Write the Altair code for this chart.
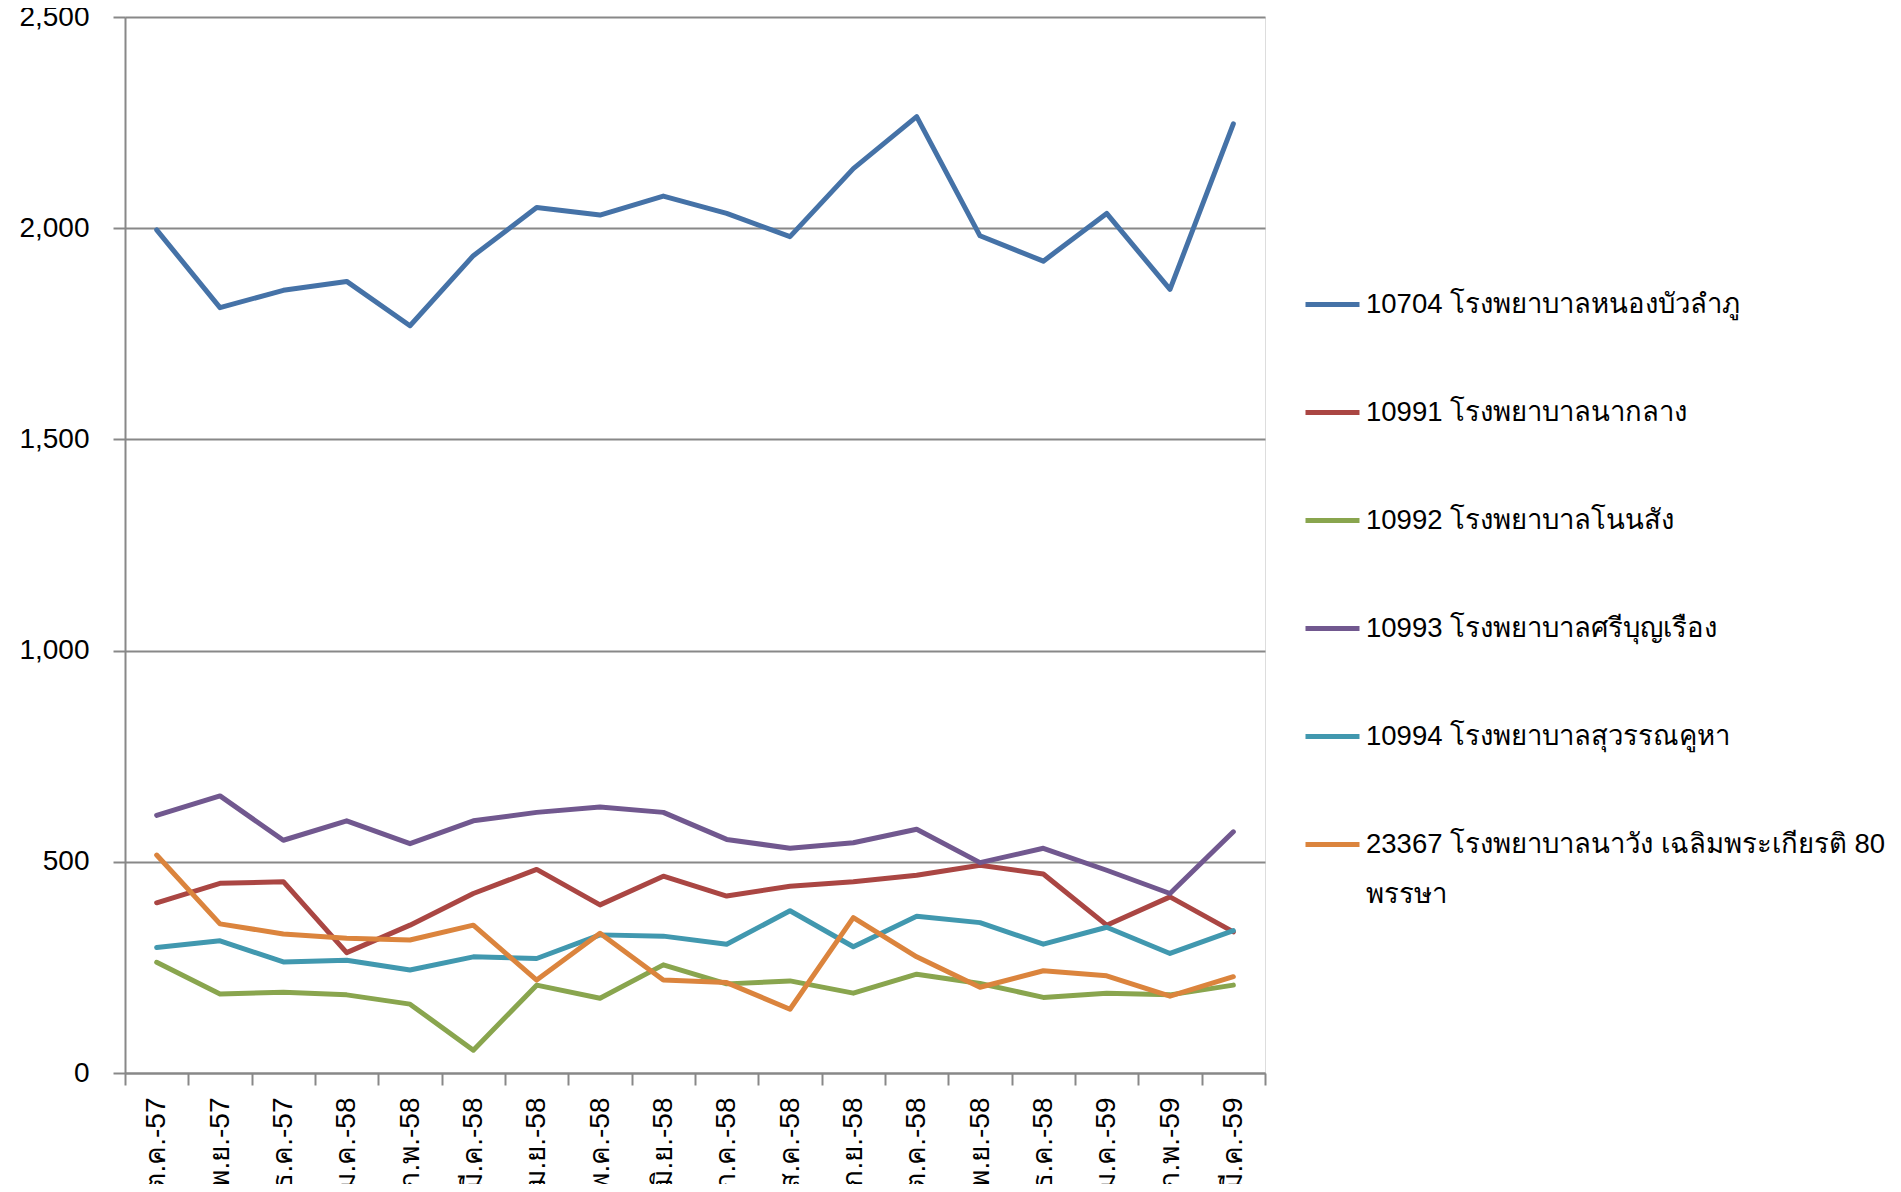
import altair as alt
import pandas as pd

months = ["ต.ค.-57", "พ.ย.-57", "ธ.ค.-57", "ม.ค.-58", "ก.พ.-58", "มี.ค.-58",
          "เม.ย.-58", "พ.ค.-58", "มิ.ย.-58", "ก.ค.-58", "ส.ค.-58", "ก.ย.-58",
          "ต.ค.-58", "พ.ย.-58", "ธ.ค.-58", "ม.ค.-59", "ก.พ.-59", "มี.ค.-59"]

series = ["10704 โรงพยาบาลหนองบัวลำภู",
          "10991 โรงพยาบาลนากลาง",
          "10992 โรงพยาบาลโนนสัง",
          "10993 โรงพยาบาลศรีบุญเรือง",
          "10994 โรงพยาบาลสุวรรณคูหา",
          "23367 โรงพยาบาลนาวัง เฉลิมพระเกียรติ 80 พรรษา"]

h10704 = [1996, 1812, 1853, 1874, 1769, 1935, 2049, 2031, 2076, 2035, 1980, 2141, 2264, 1982, 1922, 2035, 1855, 2247]
h10991 = [403, 449, 453, 285, 350, 425, 482, 398, 466, 419, 442, 453, 468, 492, 471, 350, 417, 334]
h10992 = [262, 187, 191, 185, 163, 54, 208, 177, 256, 211, 218, 189, 234, 212, 179, 189, 185, 208]
h10993 = [610, 656, 551, 597, 543, 597, 617, 630, 617, 553, 532, 545, 577, 498, 532, 480, 425, 571]
h10994 = [297, 313, 263, 267, 244, 275, 271, 327, 324, 305, 384, 299, 371, 356, 305, 345, 283, 337]
h23367 = [516, 353, 329, 319, 315, 350, 220, 331, 220, 214, 151, 368, 275, 203, 242, 230, 182, 228]

colors = ["#4572A7", "#AA4643", "#89A54E", "#71588F", "#4198AF", "#DB843D"]

rows = []
for name, vals in zip(series, [h10704, h10991, h10992, h10993, h10994, h23367]):
    for m, v in zip(months, vals):
        rows.append({"month": m, "series": name, "value": v})
df = pd.DataFrame(rows)

FONT = "Liberation Sans"
GRID = "#888888"

chart = alt.Chart(df).mark_line(
    strokeWidth=5, strokeCap="round", strokeJoin="round"
).encode(
    x=alt.X("month:N", sort=months,
            scale=alt.Scale(type="band", paddingInner=0, paddingOuter=0),
            axis=alt.Axis(title=None, labelAngle=270, tickBand="extent", grid=False,
                          tickSize=12, tickWidth=2, tickColor=GRID,
                          domainColor=GRID, domainWidth=2,
                          labelPadding=12, labelFont=FONT, labelFontSize=28,
                          labelColor="black", labelAlign="right", labelBaseline="middle")),
    y=alt.Y("value:Q", scale=alt.Scale(domain=[0, 2500], nice=False),
            axis=alt.Axis(title=None, values=[0, 500, 1000, 1500, 2000, 2500], format=",.0f",
                          grid=True, gridColor=GRID, gridWidth=2,
                          tickSize=12, tickWidth=2, tickColor=GRID,
                          domainColor=GRID, domainWidth=2,
                          labelPadding=24, labelFont=FONT, labelFontSize=28,
                          labelColor="black")),
    color=alt.Color("series:N", sort=series,
                    scale=alt.Scale(domain=series, range=colors),
                    legend=alt.Legend(title=None, orient="none", legendX=1178, legendY=258,
                                      symbolType="stroke", symbolSize=2916,
                                      symbolStrokeWidth=5, labelFont=FONT,
                                      labelFontSize=27.5, labelColor="black",
                                      labelLimit=700, labelOffset=4, rowPadding=65,
                                      padding=0,
                                      labelExpr="split(replace(datum.label, ' 80 ', ' 80|'), '|')")),
).properties(
    width=1140, height=1056,
    autosize=alt.AutoSizeParams(type="none"),
    padding={"left": 117, "top": 9, "right": 628, "bottom": 111},
).configure_view(stroke=None).configure(
    style={"guide-label": {"lineHeight": 50}}
)

chart.save("out.html", embed_options={"renderer": "svg", "actions": False})
